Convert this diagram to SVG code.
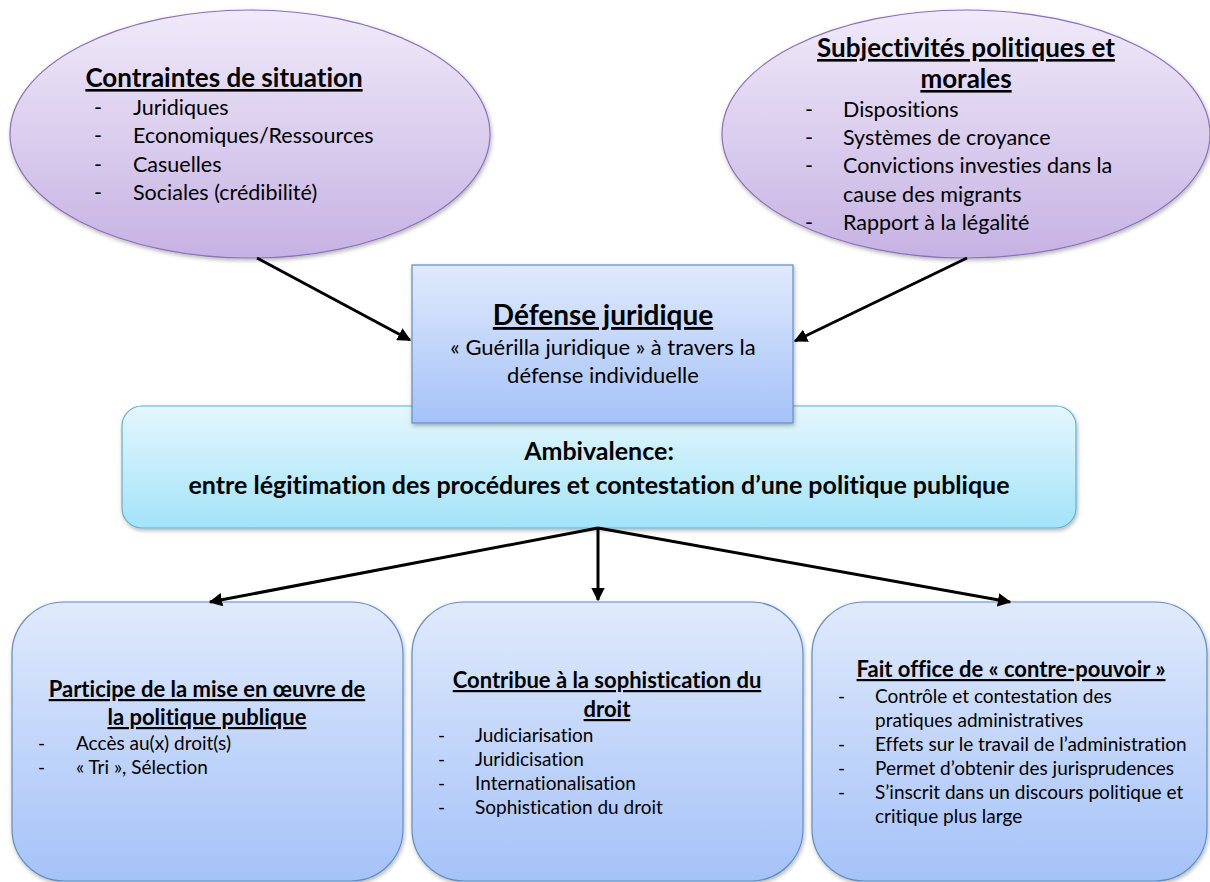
<svg xmlns="http://www.w3.org/2000/svg" width="1210" height="882" viewBox="0 0 1210 882">
<defs>
<linearGradient id="gPurple" x1="0" y1="0" x2="0" y2="1"><stop offset="0" stop-color="#f0eaf9"/><stop offset="1" stop-color="#c6b2e3"/></linearGradient>
<linearGradient id="gBlue" x1="0" y1="0" x2="0" y2="1"><stop offset="0" stop-color="#e0eafc"/><stop offset="1" stop-color="#a5c2f8"/></linearGradient>
<linearGradient id="gCyan" x1="0" y1="0" x2="0" y2="1"><stop offset="0" stop-color="#e4f7fd"/><stop offset="1" stop-color="#a3e3f8"/></linearGradient>
<filter id="sh" x="-10%" y="-10%" width="120%" height="130%"><feDropShadow dx="1" dy="2" stdDeviation="2" flood-color="#000" flood-opacity="0.3"/></filter>
<marker id="ah" viewBox="0 0 10 10" refX="9" refY="5" markerWidth="4.5" markerHeight="4.5" orient="auto" markerUnits="strokeWidth"><path d="M0,0 L10,5 L0,10 z" fill="#000"/></marker>
<style>
text{font-family:Lato,"Open Sans","Liberation Sans",sans-serif;fill:#000;font-variant-ligatures:none;font-feature-settings:"liga" 0,"clig" 0,"dlig" 0}
.t{font-weight:bold;text-decoration:underline}
.ell{fill:url(#gPurple);stroke:#8c70bc;stroke-width:1.2}
.box{fill:url(#gBlue);stroke:#5f8ec8;stroke-width:1.2}
.amb{fill:url(#gCyan);stroke:#5fb2d3;stroke-width:1.2}
.c{fill:none;stroke:#000;stroke-width:3;marker-end:url(#ah)}
.eb{font-size:21.5px}
.bb{font-size:19px}
.bt{font-size:22px}
</style>
</defs>
<rect width="1210" height="882" fill="#fff"/>

<g id="contraintes">
<ellipse class="ell" cx="250" cy="134" rx="240" ry="124" filter="url(#sh)"/>
<text class="t" x="224" y="87" text-anchor="middle" font-size="26">Contraintes de situation</text>
<g class="eb">
<text x="94" y="115">-</text><text x="133" y="115">Juridiques</text>
<text x="94" y="143">-</text><text x="133" y="143">Economiques/Ressources</text>
<text x="94" y="172">-</text><text x="133" y="172">Casuelles</text>
<text x="94" y="200">-</text><text x="133" y="200">Sociales (crédibilité)</text>
</g>
</g>

<g id="subjectivites">
<ellipse class="ell" cx="966" cy="134" rx="244" ry="124" filter="url(#sh)"/>
<text class="t" x="966" y="57" text-anchor="middle" font-size="26">Subjectivités politiques et</text>
<text class="t" x="966" y="88" text-anchor="middle" font-size="26">morales</text>
<g class="eb">
<text x="805" y="117">-</text><text x="843" y="117">Dispositions</text>
<text x="805" y="145">-</text><text x="843" y="145">Systèmes de croyance</text>
<text x="805" y="173">-</text><text x="843" y="173">Convictions investies dans la</text>
<text x="843" y="202">cause des migrants</text>
<text x="805" y="230">-</text><text x="843" y="230">Rapport à la légalité</text>
</g>
</g>

<g id="ambivalence">
<rect class="amb" x="122" y="406" width="954" height="122" rx="20" filter="url(#sh)"/>
<text x="599" y="460" text-anchor="middle" font-size="25" font-weight="bold">Ambivalence:</text>
<text x="599" y="494" text-anchor="middle" font-size="25" font-weight="bold">entre légitimation des procédures et contestation d’une politique publique</text>
</g>

<g id="defense">
<rect class="box" x="412" y="265" width="381" height="158" filter="url(#sh)"/>
<text class="t" x="603" y="325" text-anchor="middle" font-size="28">Défense juridique</text>
<text x="603" y="355" text-anchor="middle" font-size="22">« Guérilla juridique » à travers la</text>
<text x="603" y="383" text-anchor="middle" font-size="22">défense individuelle</text>
</g>

<g id="participe">
<rect class="box" x="12" y="602" width="391" height="279" rx="52" filter="url(#sh)"/>
<text class="t bt" x="207" y="697" text-anchor="middle">Participe de la mise en œuvre de</text>
<text class="t bt" x="207" y="725" text-anchor="middle">la politique publique</text>
<g class="bb">
<text x="38" y="750">-</text><text x="76" y="750">Accès au(x) droit(s)</text>
<text x="38" y="774">-</text><text x="76" y="774">« Tri », Sélection</text>
</g>
</g>

<g id="contribue">
<rect class="box" x="412" y="602" width="391" height="279" rx="52" filter="url(#sh)"/>
<text class="t bt" x="607" y="688" text-anchor="middle">Contribue à la sophistication du</text>
<text class="t bt" x="607" y="717" text-anchor="middle">droit</text>
<g class="bb">
<text x="438" y="742">-</text><text x="475" y="742">Judiciarisation</text>
<text x="438" y="766">-</text><text x="475" y="766">Juridicisation</text>
<text x="438" y="790">-</text><text x="475" y="790">Internationalisation</text>
<text x="438" y="814">-</text><text x="475" y="814">Sophistication du droit</text>
</g>
</g>

<g id="contrepouvoir">
<rect class="box" x="812" y="602" width="395" height="279" rx="52" filter="url(#sh)"/>
<text class="t bt" x="1011" y="677" text-anchor="middle">Fait office de « contre-pouvoir »</text>
<g class="bb">
<text x="838" y="703">-</text><text x="875" y="703">Contrôle et contestation des</text>
<text x="875" y="727">pratiques administratives</text>
<text x="838" y="751">-</text><text x="875" y="751">Effets sur le travail de l’administration</text>
<text x="838" y="775">-</text><text x="875" y="775">Permet d’obtenir des jurisprudences</text>
<text x="838" y="799">-</text><text x="875" y="799">S’inscrit dans un discours politique et</text>
<text x="875" y="823">critique plus large</text>
</g>
</g>

<g id="connectors">
<line class="c" x1="257" y1="258" x2="410" y2="340"/>
<line class="c" x1="967" y1="258" x2="795" y2="341"/>
<line class="c" x1="598" y1="528" x2="210" y2="602"/>
<line class="c" x1="598" y1="528" x2="598" y2="600"/>
<line class="c" x1="598" y1="528" x2="1010" y2="602"/>
</g>
</svg>
